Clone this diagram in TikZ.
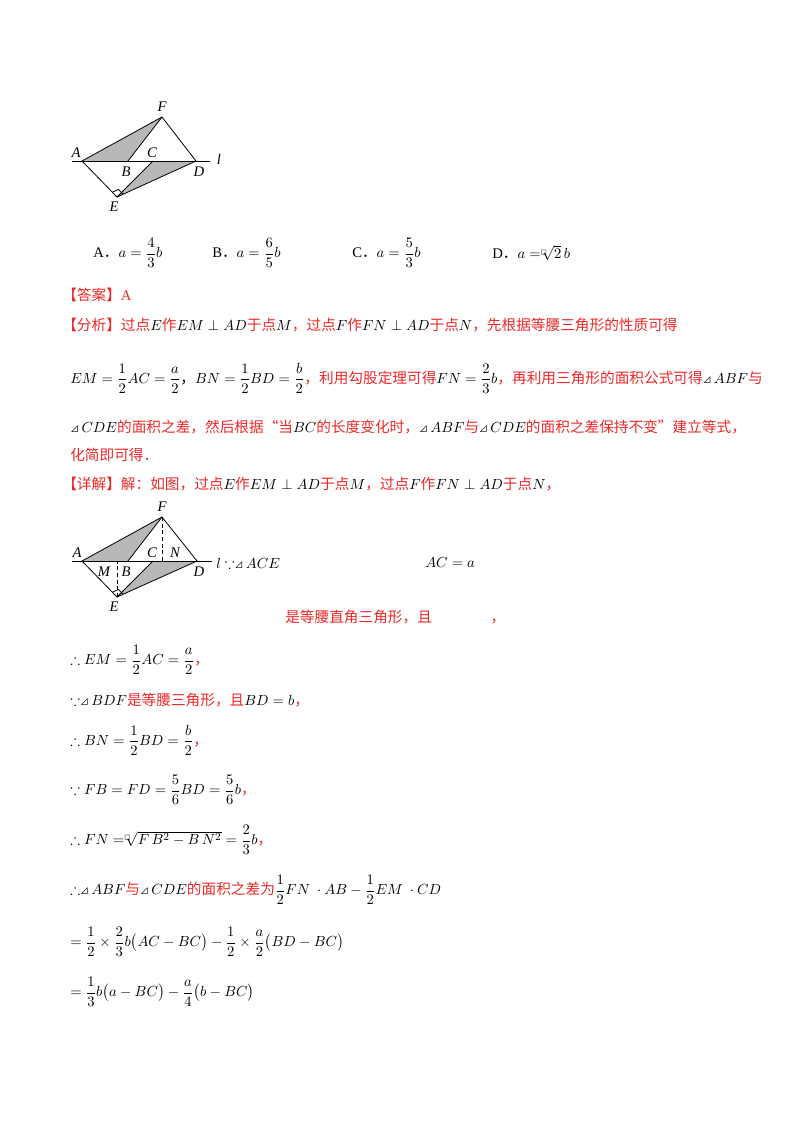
\documentclass[tikz,border=0pt]{standalone}
\usepackage{fontspec}
\usepackage{amsmath,amssymb}
\usetikzlibrary{calc}
\setmainfont{Liberation Serif}
\newfontfamily\cjk{Noto Sans CJK SC}
\newfontfamily\djvfont{DejaVu Sans}
\definecolor{ansred}{RGB}{238,40,40}
\newcommand\zh[1]{{\cjk\color{ansred}#1}}
\newcommand\tri{{\cjk\scalebox{0.6}{⊿}}\,}
\newcommand\bx{{\djvfont\scalebox{0.45}{□}}}
\begin{document}
\begin{tikzpicture}[x=0.75pt,y=-0.75pt,
  txt/.style={anchor=west,inner sep=0pt,font=\fontsize{11}{13}\selectfont},
  lab/.style={inner sep=0pt,font=\fontsize{11}{13}\selectfont\itshape},
  seg/.style={line width=0.6pt},
  shade/.style={fill=black!28}]
\useasboundingbox (0,0) rectangle (800,1132);
% ---------- figure 1
\coordinate (A) at (82,161); \coordinate (B) at (128,161); \coordinate (C) at (153,161);
\coordinate (D) at (196,161); \coordinate (E) at (117,197); \coordinate (F) at (162,117);
\coordinate (L1) at (72,161); \coordinate (L2) at (210,161);
\fill[shade] (A)--(F)--(B)--cycle;
\fill[shade] (C)--(D)--(E)--cycle;
\draw[seg] (L1)--(L2);
\draw[seg] (A)--(F)--(D)--(E)--cycle;
\draw[seg] (F)--(B); \draw[seg] (E)--(C);
\coordinate (ra) at ($(E)!5pt!(A)$); \coordinate (rd) at ($(E)!5pt!(D)$);
\draw[seg] (ra) -- ($(ra)+(rd)-(E)$) -- (rd);
\node[lab] (nA) at (76,153) {A}; \node[lab] (nB) at (126,172) {B};
\node[lab] (nC) at (152,153) {C}; \node[lab] (nD) at (199,172) {D};
\node[lab] (nE) at (114,207) {E}; \node[lab] (nF) at (162,107) {F};
\node[lab] (nl) at (219,159) {l};
% ---------- options
\node[txt] (oA) at (93,253) {A{\cjk．}$a=\dfrac{4}{3}b$};
\node[txt] (oB) at (212,253) {B{\cjk．}$a=\dfrac{6}{5}b$};
\node[txt] (oC) at (352,253) {C{\cjk．}$a=\dfrac{5}{3}b$};
\node[txt] (oD) at (492,253) {D{\cjk．}$a=$\raisebox{3pt}{\bx}$\!\!\sqrt{2}\,b$};
\node[txt,text=ansred] (ans) at (62,295) {\zh{【答案】}A};
\node[txt] (fx1) at (62,325) {\zh{【分析】过点}$E$\zh{作}$EM\perp AD$\zh{于点}$M$\zh{，过点}$F$\zh{作}$FN\perp AD$\zh{于点}$N$\zh{，先根据等腰三角形的性质可得}};
\node[txt] (fx2) at (70,378) {$EM=\dfrac12AC=\dfrac a2${\cjk ，}$BN=\dfrac12BD=\dfrac b2$\zh{，利用勾股定理可得}$FN=\dfrac23b$\zh{，再利用三角形的面积公式可得}\tri$ABF$\zh{与}};
\node[txt] (fx3) at (70,427) {\tri$CDE$\zh{的面积之差，然后根据“当}$BC$\zh{的长度变化时，}\tri$ABF$\zh{与}\tri$CDE$\zh{的面积之差保持不变”建立等式，}};
\node[txt] (fx4) at (70,455) {\zh{化简即可得．}};
\node[txt] (xj) at (62,484) {\zh{【详解】解：如图，过点}$E$\zh{作}$EM\perp AD$\zh{于点}$M$\zh{，过点}$F$\zh{作}$FN\perp AD$\zh{于点}$N$\zh{，}};
% ---------- figure 2
\coordinate (A2) at (82,561); \coordinate (B2) at (128,561); \coordinate (C2) at (153,561);
\coordinate (D2) at (197,561); \coordinate (E2) at (117,597); \coordinate (F2) at (162,517);
\coordinate (M2) at (117,561); \coordinate (N2) at (162,561);
\coordinate (L3) at (72,561); \coordinate (L4) at (212,561);
\fill[shade] (A2)--(F2)--(B2)--cycle;
\fill[shade] (C2)--(D2)--(E2)--cycle;
\draw[seg] (L3)--(L4);
\draw[seg] (A2)--(F2)--(D2)--(E2)--cycle;
\draw[seg] (F2)--(B2); \draw[seg] (E2)--(C2);
\draw[seg,densely dashed] (F2)--(N2); \draw[seg,densely dashed] (E2)--(M2);
\coordinate (sa) at ($(E2)!5pt!(A2)$); \coordinate (sd) at ($(E2)!5pt!(D2)$);
\draw[seg] (sa) -- ($(sa)+(sd)-(E2)$) -- (sd);
\node[lab] (mA) at (77,553) {A}; \node[lab] (mM) at (104,572) {M};
\node[lab] (mB) at (126,572) {B}; \node[lab] (mC) at (152,553) {C};
\node[lab] (mN) at (175,553) {N}; \node[lab] (mD) at (199,572) {D};
\node[lab] (mE) at (114,607) {E}; \node[lab] (mF) at (162,507) {F};
\node[txt] (because) at (216,563) {$l\because$\tri$ACE$};
\node[txt] (aca) at (425,563) {$AC=a$};
\node[txt] (dy) at (285,617) {\zh{是等腰直角三角形，且　　　　，}};
% ---------- steps
\node[txt] (s1) at (70,660) {$\therefore EM=\dfrac12AC=\dfrac a2$\zh{，}};
\node[txt] (s2) at (70,700) {$\because$\tri$BDF$\zh{是等腰三角形，且}$BD=b$\zh{，}};
\node[txt] (s3) at (70,740) {$\therefore BN=\dfrac12BD=\dfrac b2$\zh{，}};
\node[txt] (s4) at (70,790) {$\because FB=FD=\dfrac56BD=\dfrac56b$\zh{，}};
\node[txt] (s5) at (70,840) {$\therefore FN=$\raisebox{4pt}{\bx}$\!\!\sqrt{F\,B^2-B\,N^2}=\dfrac23b$\zh{，}};
\node[txt] (s6) at (70,890) {$\therefore$\tri$ABF$\zh{与}\tri$CDE$\zh{的面积之差为}$\dfrac12FN\ \cdot AB-\dfrac12EM\ \cdot CD$};
\node[txt] (s7) at (70,942) {$=\dfrac12\times\dfrac23b\bigl(AC-BC\bigr)-\dfrac12\times\dfrac a2\bigl(BD-BC\bigr)$};
\node[txt] (s8) at (70,992) {$=\dfrac13b\bigl(a-BC\bigr)-\dfrac a4\bigl(b-BC\bigr)$};
\end{tikzpicture}
\end{document}
